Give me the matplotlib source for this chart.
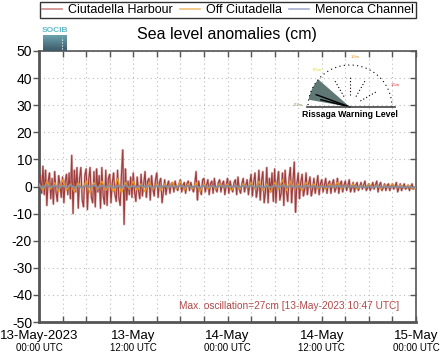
import numpy as np
import matplotlib
matplotlib.use("Agg")
import matplotlib.pyplot as plt
from matplotlib.patches import Wedge, Arc
from matplotlib.lines import Line2D
import matplotlib.transforms as mtransforms

plt.rcParams['font.family'] = ['Liberation Sans', 'DejaVu Sans']

# ---------------- data (hours since 13-May-2023 00:00 UTC) ----------------
harbour = [
    0.5, 4.0, -2.5, 7.5, -3.0, 6.0,   -7.0, 2.0, 5.0, -4.5, 3.0, -6.5,
    5.5, -2.0, -5.5, 4.0, 1.0, -4.0,  3.5, -6.0, 2.0, 4.5, -3.0, 5.0,
    -4.5, 11.5, -10.0, 6.0, -2.0, 7.0,  -8.0, 3.0, 7.0, -5.0, -7.5, 4.0,
    6.5, -8.5, 2.5, 7.0, -4.0, -6.0,  5.5, -7.5, 6.5, -2.0, 4.0, -8.0,
    7.0, -3.5, -6.5, 6.0, -7.0, 3.0,  4.5, -6.0, 1.5, 5.0, -3.0, -5.5,
    6.0, -4.0, -7.0, 4.5, 13.5, -14.0,  6.5, -5.0, 2.0, -3.0, 3.5, -4.0,
    5.0, -2.0, -5.5, 3.5, -1.5, -4.5,  4.5, -3.5, 1.0, 5.5, -4.0, 2.0,
    3.0, -5.0, 4.0, -1.0, -3.5, 2.5,  5.0, -4.0, 1.5, 3.0, -6.0, -2.0,
    2.5, -3.0, 0.5, 2.0, -2.5, 1.0,  1.5, -2.0, 2.0, -0.5, -1.5, 1.0,
    2.5, -2.0, 0.5, 1.5, -2.5, 1.0,  2.0, -1.5, 1.5, -0.5, -2.0, 1.0,
    5.5, -5.0, 2.0, -1.0, -3.0, 2.5,  3.0, -2.0, 0.5, 2.5, -3.0, 1.0,
    2.0, -2.5, 3.0, -1.0, -2.0, 1.5,  2.5, -2.0, 1.0, 2.0, -3.0, 0.5,
    3.0, -2.5, 2.0, -0.5, -2.0, 1.5,  2.5, -3.0, 3.5, -1.0, -2.5, 1.0,
    3.0, -2.0, 0.5, 2.5, -3.0, 1.0,  4.5, -3.5, 1.5, 5.0, -4.0, -1.0,
    6.0, -5.0, 2.0, 5.5, -6.0, -2.0,  7.0, -6.0, 3.0, -2.0, 5.0, -5.5,
    6.5, -6.0, 1.5, 5.5, -5.0, -2.5,  5.0, -7.0, 6.0, -1.5, -5.5, 3.0,
    7.0, -6.0, 2.0, 9.0, -9.5, 1.0,  5.0, -4.5, 1.5, 4.5, -3.5, -1.0,
    5.0, -3.0, 1.0, 3.5, -3.5, -1.0,  3.0, -2.5, 0.5, 4.0, -3.0, 1.0,
    2.5, -2.0, 0.5, 3.0, -2.5, 1.0,  2.0, -2.5, 1.0, 2.5, -2.0, -0.5,
    3.0, -2.5, 1.0, 2.0, -2.0, 0.5,  2.0, -1.5, 0.5, 2.5, -2.0, -0.5,
    1.5, -2.0, 0.5, 1.5, -1.5, 0.0,  1.5, -1.0, 0.5, 2.0, -1.5, -0.5,
    1.0, -1.5, 0.0, 1.5, -1.0, 0.5,  2.0, -2.0, 0.5, 1.5, -1.5, -0.5,
    1.0, -1.5, 0.5, 1.0, -1.5, 0.0,  1.0, -1.0, 0.0, 1.5, -2.0, -0.5,
    1.0, -1.5, 0.0, 1.0, -1.0, -0.5,  0.5, -1.5, 0.0, 1.0, -1.0, -0.5,
    -0.5,
]
harbour_t = [i / 6 for i in range(len(harbour))]

offshore = [
    1.0, -1.5, 2.0, -1.0, 1.5, -2.0, 2.5, -1.5, 1.0, -2.0, 1.5, -1.0,
    2.0, -2.5, 1.5, -1.0, 2.0, -1.5, 1.0, -2.0, 3.0, -2.5, 1.5, -1.0,
    2.0, -1.5, 1.0, -2.0, 1.5, -1.0, 1.0, -1.5, 1.0, -0.5, 1.5, -1.0,
    2.0, -1.5, 1.0, -1.0, 1.5, -2.0, 1.0, -1.0, 0.5, -1.0, 1.0, -0.5,
    1.0, -1.5, 0.5, -1.0, 1.0, -0.5, 1.5, -1.0, 2.0, -1.5, 1.0, -2.0,
    1.5, -1.0, 2.5, -1.5, 2.0, -1.0, 1.0, -1.5, 1.5, -0.5, 1.0, -1.0,
    0.5, -1.0, 1.0, -0.5, 1.5, -1.0, 0.5, -0.5, 1.0, -1.0, 0.5, -0.5,
    1.0, -0.5, 0.5, -1.0, 0.5, -0.5, 1.0, -0.5, 0.5, -0.5, 0.5, -1.0,
    -0.5,
]
offshore_t = [i * 0.5 for i in range(len(offshore))]

channel = [
    0.3, -0.4, 0.5, -0.2, 0.4, -0.5, 0.3, -0.3, 0.5, -0.4, 0.2, -0.5,
    0.4, -0.3, 0.5, -0.4, 0.3, -0.2, 0.4, -0.5, 0.3, -0.4, 0.5, -0.3,
    0.2, -0.3, 0.4, -0.2, 0.3, -0.3, 0.2, -0.2, 0.3, -0.2, 0.2, -0.3,
    0.4, -0.2, 0.3, -0.3, 0.2, -0.4, 0.3, -0.2, 0.2, -0.3, 0.3, -0.2,
    0.3, -0.2, 0.2, -0.3, 0.3, -0.2, 0.4, -0.3, 0.3, -0.4, 0.2, -0.3,
    0.4, -0.3, 0.5, -0.3, 0.3, -0.4, 0.2, -0.3, 0.3, -0.2, 0.2, -0.3,
    0.1, -0.3, 0.2, -0.2, 0.3, -0.3, 0.1, -0.2, 0.2, -0.3, 0.1, -0.3,
    0.2, -0.4, 0.1, -0.3, 0.0, -0.4, 0.1, -0.3, 0.0, -0.4, -0.1, -0.4,
    -0.3,
]
channel_t = [i * 0.5 for i in range(len(channel))]

series_names = ["Ciutadella Harbour", "Off Ciutadella", "Menorca Channel"]
series_colors = ["#9c3c3c", "#e8961e", "#8a8c98"]
legend_colors = ["#d08a8a", "#f2bf78", "#a8aed0"]

major_ticks = [0, 12, 24, 36, 48]
date_labels = ["13-May-2023", "13-May", "14-May", "14-May", "15-May"]
time_labels = ["00:00 UTC", "12:00 UTC", "00:00 UTC", "12:00 UTC", "00:00 UTC"]
y_ticks = [-50, -40, -30, -20, -10, 0, 10, 20, 30, 40, 50]

gauge_labels = ["0.2m", "0.5m", "1.0m", "1.5m"]
gauge_colors = ["#8a8a50", "#e8d000", "#f09000", "#e02020"]

max_text = "Max. oscillation=27cm [13-May-2023 10:47 UTC]"

# ---------------- figure ----------------
fig = plt.figure(figsize=(4.45, 3.59), dpi=100)
ax = fig.add_axes([39 / 445, 1 - 322 / 359, 377 / 445, 271 / 359])

ax.plot(harbour_t, harbour, color="#c98080", lw=1.6, alpha=0.6, zorder=2)
ax.plot(harbour_t, harbour, color=series_colors[0], lw=0.8, zorder=3)
ax.plot(offshore_t, offshore, color=series_colors[1], lw=0.9, zorder=4)
ax.plot(channel_t, channel, color=series_colors[2], lw=1.4, zorder=5)

ax.set_xlim(0, 48)
ax.set_ylim(-50, 50)
ax.set_yticks(y_ticks)
ax.set_yticklabels([str(v) for v in y_ticks], fontsize=10)
ax.set_xticks(np.arange(0, 49, 3))
ax.set_xticklabels([])
ax.grid(True, ls=(0, (1, 3)), color="#bbbbbb", lw=0.8)

for side in ["left", "bottom"]:
    ax.spines[side].set_color("#555555")
    ax.spines[side].set_linewidth(2.0)
for side in ["top", "right"]:
    ax.spines[side].set_color("#555555")
    ax.spines[side].set_linewidth(1.2)

ax.tick_params(axis="y", which="both", left=True, right=True, direction="out",
               length=4, width=1, color="#555555", pad=1)
ax.tick_params(axis="x", which="both", top=True, bottom=True, direction="in",
               length=4, width=1, color="#555555")
for t in ax.yaxis.get_major_ticks():
    t.tick2line.set_marker(matplotlib.lines.TICKLEFT)

trans = mtransforms.blended_transform_factory(ax.transData, ax.transAxes)
for x, d, tl in zip(major_ticks, date_labels, time_labels):
    ax.text(x, -0.03, d, transform=trans, ha="center", va="top", fontsize=9.5)
    ax.text(x, -0.078, tl, transform=trans, ha="center", va="top", fontsize=7)

ax.text(0.955, 0.04, max_text, transform=ax.transAxes, ha="right", va="bottom",
        fontsize=7.3, color="#b04a4a")

# title
fig.text(227 / 445, 1 - 35 / 359, "Sea level anomalies (cm)", ha="center", va="center",
         fontsize=11.5)

# legend
handles = [Line2D([0], [0], color=c, lw=1.2) for c in legend_colors]
leg = fig.legend(handles, series_names, loc="upper center", bbox_to_anchor=(228 / 445, 1 - 2 / 359),
                 ncol=3, fontsize=9, frameon=True, fancybox=False, handlelength=1.6,
                 handletextpad=0.45, columnspacing=0.6, borderpad=0.15, borderaxespad=0)
leg.get_frame().set_edgecolor("black")
leg.get_frame().set_linewidth(1.0)

# SOCIB logo
fig.text(55 / 445, 1 - 31 / 359, "SOCIB", ha="center", va="center", fontsize=6,
         color="#5fb8c8", fontweight="bold")
logo_ax = fig.add_axes([43 / 445, 1 - 51 / 359, 24 / 445, 16 / 359])
grad = np.linspace(0, 1, 50).reshape(-1, 1)
logo_ax.imshow(grad, aspect="auto", cmap=matplotlib.colors.LinearSegmentedColormap.from_list(
    "g", ["#6aa2ae", "#3e5a68"]), extent=[0, 1, 0, 1])
logo_ax.plot([0.8, 0.8], [0.1, 0.9], ls=":", color="white", lw=0.8)
logo_ax.set_axis_off()

# Rissaga gauge inset
ins = fig.add_axes([295 / 445, 1 - 120 / 359, 110 / 445, 68 / 359])
ins.set_xlim(-55, 55)
ins.set_ylim(-13, 55)
ins.set_axis_off()
ins.add_patch(Wedge((0, 0), 42, 139, 170, facecolor="#5f7876", edgecolor="none"))
ins.add_patch(Arc((0, 0), 84, 84, theta1=0, theta2=180, ls=(0, (1, 3)), color="black", lw=0.8))
for ang in [30, 60, 90, 120]:
    a = np.deg2rad(ang)
    ins.plot([12 * np.cos(a), 32 * np.cos(a)], [12 * np.sin(a), 32 * np.sin(a)],
             ls=(0, (1, 2)), color="black", lw=0.8)
for ang, ln in [(160, 36), (166, 30)]:
    a = np.deg2rad(ang)
    ins.plot([0, ln * np.cos(a)], [0, ln * np.sin(a)], color="black", lw=1.0)
ins.plot([-43, 45], [0, 0], color="#444444", lw=1.2)
for (x, y), lab, c in zip([(-52, 2), (-33, 37), (5, 50), (45, 22)], gauge_labels, gauge_colors):
    ins.text(x, y, lab, fontsize=3, color=c, ha="center", va="center")
ins.text(0, -7, "Rissaga Warning Level", fontsize=6.3, ha="center", va="center",
         fontweight="bold")

fig.savefig("out.png", dpi=100)
